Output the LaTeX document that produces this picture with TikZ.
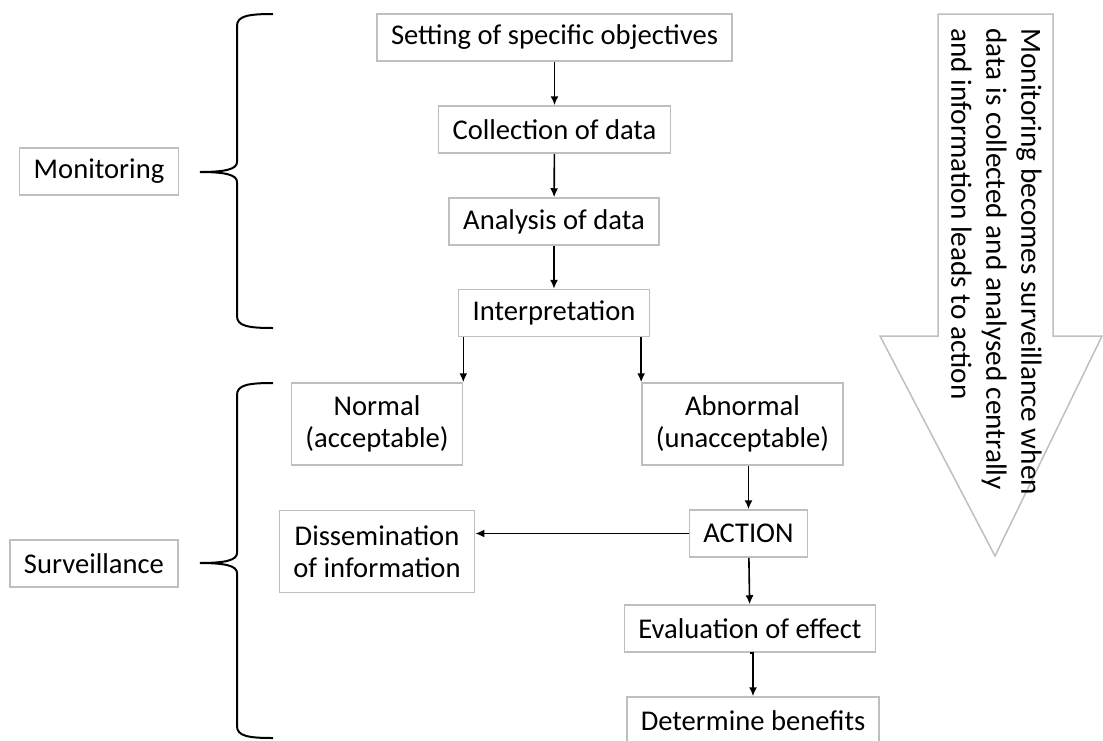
\documentclass[tikz,border=0pt]{standalone}
\usepackage{fontspec}
\setmainfont{Carlito}
\usetikzlibrary{arrows.meta}

\tikzset{
	box/.style={draw=gray!50, line width=0.75pt, fill=white, inner xsep=7pt, inner ysep=2pt,
		minimum height=23.5pt, align=center, font=\fontsize{14.3}{16}\selectfont},
	twobox/.style={box, minimum height=41pt},
	arr/.style={-{Latex[length=4.5pt,width=4pt]}, line width=0.8pt},
	brace/.style={line width=1pt},
}

\begin{document}
\begin{tikzpicture}[x=0.5pt,y=-0.5pt]
	\useasboundingbox (0,0) rectangle (1103,740);

	% big arrow on the right
	\draw[gray!50, line width=0.75pt] (938,14) -- (1053,14) -- (1053,336) -- (1102,336)
		-- (995,556) -- (880,336) -- (938,336) -- cycle;
	\node[rotate=-90, anchor=north west, align=left, inner sep=0pt,
		font=\fontsize{14.6}{17.5}\selectfont] (note) at (1042,28)
		{Monitoring becomes surveillance when\\data is collected and analysed centrally\\and information leads to action};

	% flow boxes
	\node[box] (objectives) at (554.5,37.5) {Setting of specific objectives};
	\node[box] (collect) at (554.5,129.5) {Collection of data};
	\node[box] (analyse) at (554,221.5) {Analysis of data};
	\node[box] (interp) at (554,313) {Interpretation};
	\node[twobox] (normal) at (377,424) {Normal\\(acceptable)};
	\node[twobox] (abnormal) at (742.5,424) {Abnormal\\(unacceptable)};
	\node[box] (action) at (748.5,533.5) {ACTION};
	\node[twobox] (dissem) at (377,551.5) {Dissemination\\of information};
	\node[box] (evaluate) at (750,628.5) {Evaluation of effect};
	\node[box] (benefits) at (753,720.5) {Determine benefits};

	% labels left of the braces
	\node[box] (mon) at (99,171.5) {Monitoring};
	\node[box] (surv) at (94,563.5) {Surveillance};

	\foreach \top/\tip/\bot in {14/172/328, 383/563/738}
		\draw[brace] (273,\top) .. controls (248,\top) and (237,\top+2) .. (237,\top+12)
			-- (237,\tip-10) .. controls (237,\tip-3) and (226,\tip) .. (200,\tip)
			.. controls (226,\tip) and (237,\tip+3) .. (237,\tip+10)
			-- (237,\bot-12) .. controls (237,\bot-2) and (248,\bot) .. (273,\bot);

	% connectors
	\draw[arr] (objectives) -- (collect);
	\draw[arr] (collect) -- (analyse);
	\draw[arr] (analyse) -- (interp);
	\draw[arr] (normal.north east |- interp.south) -- (normal.north east);
	\draw[arr] (abnormal.north west |- interp.south) -- (abnormal.north west);
	\draw[arr] (action.north |- abnormal.south) -- (action.north);
	\draw[arr] (action.west) -- (dissem.east |- action.west);
	\draw[arr] (action) -- (evaluate);
	\draw[arr] (evaluate.south) -- (evaluate.south -| benefits.north) -- (benefits.north);
\end{tikzpicture}
\end{document}
